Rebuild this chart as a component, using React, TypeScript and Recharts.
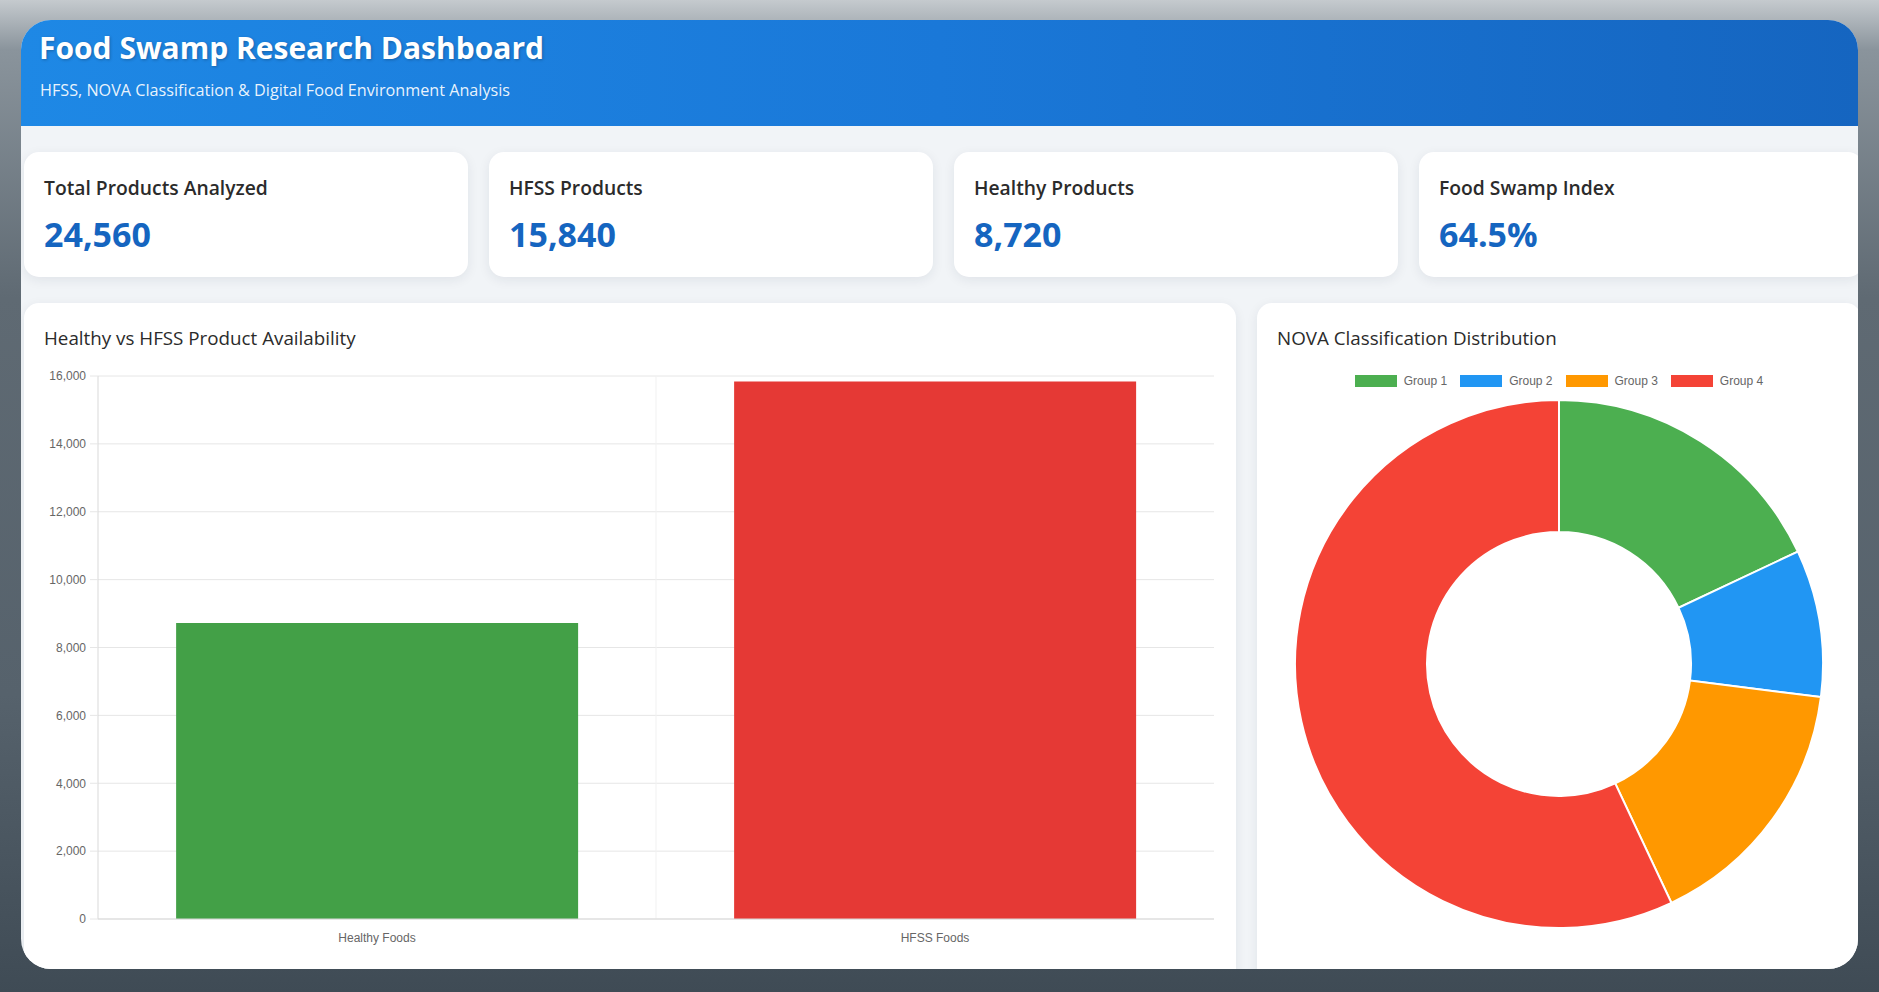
import React from 'react';
import {
  BarChart,
  Bar,
  XAxis,
  YAxis,
  CartesianGrid,
  Cell,
  PieChart,
  Pie,
} from 'recharts';

// headline numbers
const kpiLabels = ['Total Products Analyzed', 'HFSS Products', 'Healthy Products', 'Food Swamp Index'];
const kpiValues = ['24,560', '15,840', '8,720', '64.5%'];

// healthy vs hfss bars
const categories = ['Healthy Foods', 'HFSS Foods'];
const productCounts = [8720, 15840];
const barColors = ['#43a047', '#e53935'];
const yTicks = [0, 2000, 4000, 6000, 8000, 10000, 12000, 14000, 16000];

// nova doughnut
const novaGroups = ['Group 1', 'Group 2', 'Group 3', 'Group 4'];
const novaShares = [18, 9, 16, 57];
const novaColors = ['#4caf50', '#2196f3', '#ff9800', '#f44336'];

const UI_FONT = "'Open Sans', 'Noto Sans', sans-serif";
const CHART_FONT = "'Liberation Sans', Arial, Helvetica, sans-serif";

const barData = categories.map((name, i) => ({ name, value: productCounts[i] }));
const pieData = novaGroups.map((name, i) => ({ name, value: novaShares[i] }));

const cardStyle: React.CSSProperties = {
  position: 'absolute',
  background: '#fff',
  borderRadius: 15,
  boxShadow: '0 3px 12px rgba(20, 40, 70, 0.08)',
};

const KpiCard = ({ label, value, left }: { label: string; value: string; left: number }) => (
  <div style={{ ...cardStyle, left, top: 132, width: 443.5, height: 125 }}>
    <div
      style={{
        position: 'absolute',
        left: 20,
        top: 26,
        fontSize: 19.3,
        lineHeight: '19px',
        fontWeight: 600,
        color: '#2b2b2b',
        whiteSpace: 'nowrap',
      }}
    >
      {label}
    </div>
    <div
      style={{
        position: 'absolute',
        left: 20,
        top: 64.5,
        fontSize: 34,
        lineHeight: '34px',
        fontWeight: 700,
        color: '#1565c0',
        whiteSpace: 'nowrap',
      }}
    >
      {value}
    </div>
  </div>
);

const cardTitle: React.CSSProperties = {
  position: 'absolute',
  left: 20,
  top: 26,
  fontSize: 18.8,
  lineHeight: '19px',
  fontWeight: 500,
  color: '#2b2b2b',
  whiteSpace: 'nowrap',
};

export default function App() {
  return (
    <div
      style={{
        position: 'relative',
        width: 1879,
        height: 992,
        overflow: 'hidden',
        fontFamily: UI_FONT,
        background:
          'linear-gradient(180deg, #c5cace 0%, #8a949c 5%, #5f6a73 30%, #56626c 70%, #3f4b55 100%)',
      }}
    >
      <style>{'body{margin:0}'}</style>

      <div
        style={{
          position: 'absolute',
          left: 21,
          top: 20,
          width: 1837,
          height: 949,
          borderRadius: 30,
          overflow: 'hidden',
          background: '#f1f4f7',
        }}
      >
        {/* header */}
        <div
          style={{
            position: 'absolute',
            left: 0,
            top: 0,
            width: 1837,
            height: 106,
            background: 'linear-gradient(90deg, #1e88e5 0%, #1a78d8 50%, #1565c0 100%)',
          }}
        >
          <div
            style={{
              position: 'absolute',
              left: 18,
              top: 13.4,
              fontSize: 30,
              lineHeight: '30px',
              fontWeight: 700,
              color: '#fff',
              textShadow: '1px 1px 3px rgba(0,0,0,0.25)',
              whiteSpace: 'nowrap',
            }}
          >
            Food Swamp Research Dashboard
          </div>
          <div
            style={{
              position: 'absolute',
              left: 19,
              top: 61.5,
              fontSize: 16.2,
              lineHeight: '16px',
              fontWeight: 400,
              color: 'rgba(255,255,255,0.92)',
              whiteSpace: 'nowrap',
            }}
          >
            HFSS, NOVA Classification &amp; Digital Food Environment Analysis
          </div>
        </div>

        {kpiLabels.map((label, i) => (
          <KpiCard key={label} label={label} value={kpiValues[i]} left={3 + i * 465} />
        ))}

        {/* bar chart card */}
        <div style={{ ...cardStyle, left: 3, top: 283, width: 1212, height: 700 }}>
          <div style={cardTitle}>Healthy vs HFSS Product Availability</div>
          <div style={{ position: 'absolute', left: 22, top: 63 }}>
            <BarChart
              width={1168}
              height={590}
              data={barData}
              margin={{ top: 10, right: 0, bottom: 0, left: 0 }}
              barCategoryGap="14%"
            >
              <CartesianGrid stroke="#e6e6e6" vertical={false} />
              <CartesianGrid
                stroke="#f1f1f1"
                horizontal={false}
                verticalCoordinatesGenerator={({ offset }: any) => [offset.left + offset.width / 2]}
              />
              <XAxis
                dataKey="name"
                height={37}
                tickLine={false}
                tickSize={8}
                tickMargin={6}
                axisLine={{ stroke: '#d9d9d9' }}
                tick={{ fill: '#666', fontSize: 12, fontFamily: CHART_FONT }}
              />
              <YAxis
                width={52}
                domain={[0, 16000]}
                ticks={yTicks}
                tickSize={8}
                tickMargin={4}
                tickLine={{ stroke: '#e6e6e6' }}
                axisLine={{ stroke: '#d9d9d9' }}
                tick={{ fill: '#666', fontSize: 12, fontFamily: CHART_FONT }}
                tickFormatter={(v: number) => v.toLocaleString('en-US')}
              />
              <Bar dataKey="value" isAnimationActive={false}>
                {barData.map((entry, i) => (
                  <Cell key={entry.name} fill={barColors[i]} />
                ))}
              </Bar>
            </BarChart>
          </div>
        </div>

        {/* doughnut card */}
        <div style={{ ...cardStyle, left: 1236, top: 283, width: 604, height: 700 }}>
          <div style={cardTitle}>NOVA Classification Distribution</div>
          <div
            style={{
              position: 'absolute',
              left: 22,
              top: 71,
              width: 560,
              height: 14,
              display: 'flex',
              justifyContent: 'center',
              alignItems: 'center',
              gap: 13,
              fontFamily: CHART_FONT,
              fontSize: 12,
              color: '#666',
            }}
          >
            {novaGroups.map((g, i) => (
              <div key={g} style={{ display: 'flex', alignItems: 'center', gap: 7 }}>
                <span style={{ width: 42, height: 12, background: novaColors[i], display: 'inline-block' }} />
                <span style={{ lineHeight: '14px' }}>{g}</span>
              </div>
            ))}
          </div>
          <div style={{ position: 'absolute', left: 22, top: 93 }}>
            <PieChart width={560} height={540} margin={{ top: 0, right: 0, bottom: 0, left: 0 }}>
              <Pie
                data={pieData}
                dataKey="value"
                nameKey="name"
                cx={280}
                cy={268}
                innerRadius={132}
                outerRadius={264}
                startAngle={90}
                endAngle={-270}
                stroke="#fff"
                strokeWidth={2}
                isAnimationActive={false}
              >
                {pieData.map((entry, i) => (
                  <Cell key={entry.name} fill={novaColors[i]} />
                ))}
              </Pie>
            </PieChart>
          </div>
        </div>
      </div>
    </div>
  );
}
